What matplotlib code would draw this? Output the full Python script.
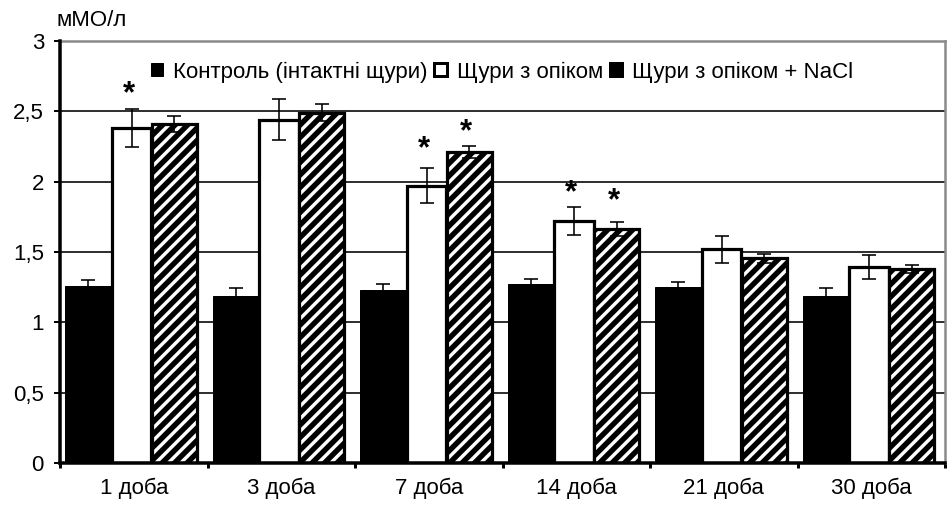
import matplotlib
matplotlib.use("Agg")
import matplotlib.pyplot as plt
import numpy as np
from matplotlib.patches import Patch

DPI = 150
P = 72.0 / DPI  # points per pixel

categories = ["1 доба", "3 доба", "7 доба", "14 доба", "21 доба", "30 доба"]
series_names = ["Контроль (інтактні щури)", "Щури з опіком", "Щури з опіком + NaCl"]
control = [1.26, 1.19, 1.23, 1.27, 1.25, 1.19]
control_err = [0.04, 0.055, 0.045, 0.04, 0.04, 0.055]
burn = [2.38, 2.44, 1.97, 1.72, 1.52, 1.395]
burn_err = [0.135, 0.145, 0.125, 0.10, 0.095, 0.085]
burn_nacl = [2.41, 2.49, 2.21, 1.665, 1.455, 1.38]
burn_nacl_err = [0.06, 0.06, 0.045, 0.05, 0.03, 0.03]
# significance marks: (category index, series index, y of the asterisk)
stars = [(0, 1, 2.69), (2, 1, 2.30), (2, 2, 2.42), (3, 1, 1.99), (3, 2, 1.93)]
yticks = [0, 0.5, 1, 1.5, 2, 2.5, 3]
ytick_labels = ["0", "0,5", "1", "1,5", "2", "2,5", "3"]
unit_label = "мМО/л"

plt.rcParams['font.family'] = ['Liberation Sans', 'DejaVu Sans']
plt.rcParams['hatch.linewidth'] = 5.4 * P

W, H = 947, 505
fig = plt.figure(figsize=(W / DPI, H / DPI), dpi=DPI)
ax = fig.add_axes([60 / W, (H - 463) / H, 885 / W, (463 - 41) / H])

x = np.arange(len(categories))
offsets = [-0.307, -0.015, 0.273]
widths = [0.315, 0.27, 0.305]
fs = 22.3 * P

b1 = ax.bar(x + offsets[0], control, widths[0], color='black', edgecolor='black',
            linewidth=1 * P, zorder=2, label=series_names[0])
b2 = ax.bar(x + offsets[1], burn, widths[1], color='white', edgecolor='black',
            linewidth=3.2 * P, zorder=2, label=series_names[1])
b3 = ax.bar(x + offsets[2], burn_nacl, widths[2], color='white', edgecolor='black',
            hatch='////', linewidth=3.2 * P, zorder=2, label=series_names[2])

for vals, errs, off in [(control, control_err, offsets[0]),
                        (burn, burn_err, offsets[1]),
                        (burn_nacl, burn_nacl_err, offsets[2])]:
    ax.errorbar(x + off, vals, yerr=errs, fmt='none', ecolor='black',
                elinewidth=1.6 * P, capsize=7 * P, capthick=1.6 * P, zorder=3)

for ci, si, ys in stars:
    ax.annotate('*', xy=(ci + offsets[si] - 0.02, ys), xytext=(0, -18 * P),
                textcoords='offset points', ha='center', va='baseline',
                fontsize=31 * P, fontweight='bold', zorder=4)

ax.set_xlim(-0.5, len(categories) - 0.5)
ax.set_ylim(0, 3)
ax.set_yticks(yticks)
ax.set_yticklabels(ytick_labels, fontsize=fs)
ax.set_xticks(x)
ax.set_xticklabels(categories, fontsize=fs)
ax.set_xticks(np.arange(len(categories) + 1) - 0.5, minor=True)
ax.tick_params(axis='x', which='major', length=0, pad=15 * P)
ax.tick_params(axis='x', which='minor', length=5 * P, width=3 * P, direction='out')
ax.tick_params(axis='y', which='major', length=6 * P, width=2 * P, direction='out', pad=10 * P)

ax.yaxis.grid(True, color='black', linewidth=1.6 * P, zorder=0)
ax.set_axisbelow(True)
for s in ['left', 'bottom']:
    ax.spines[s].set_linewidth(3.5 * P)
    ax.spines[s].set_color('black')
for s in ['top', 'right']:
    ax.spines[s].set_linewidth(2.5 * P)
    ax.spines[s].set_color('#8a8a8a')
ax.spines['bottom'].set_zorder(5)
ax.spines['left'].set_zorder(5)

fig.text(57 / W, 1 - 20 / H, unit_label, fontsize=fs, ha='left', va='center')

handles = [Patch(facecolor='black', edgecolor='black', linewidth=1 * P),
           Patch(facecolor='white', edgecolor='black', linewidth=3 * P),
           Patch(facecolor='black', edgecolor='black', linewidth=3 * P)]
leg = fig.legend(handles, series_names, loc='center left',
                 bbox_to_anchor=(151 / W, 1 - 72 / H), ncol=3, frameon=False,
                 fontsize=fs, handlelength=0.55, handleheight=0.55,
                 handletextpad=0.45, columnspacing=0.3, borderpad=0, borderaxespad=0)

fig.savefig('out.png', dpi=DPI)
